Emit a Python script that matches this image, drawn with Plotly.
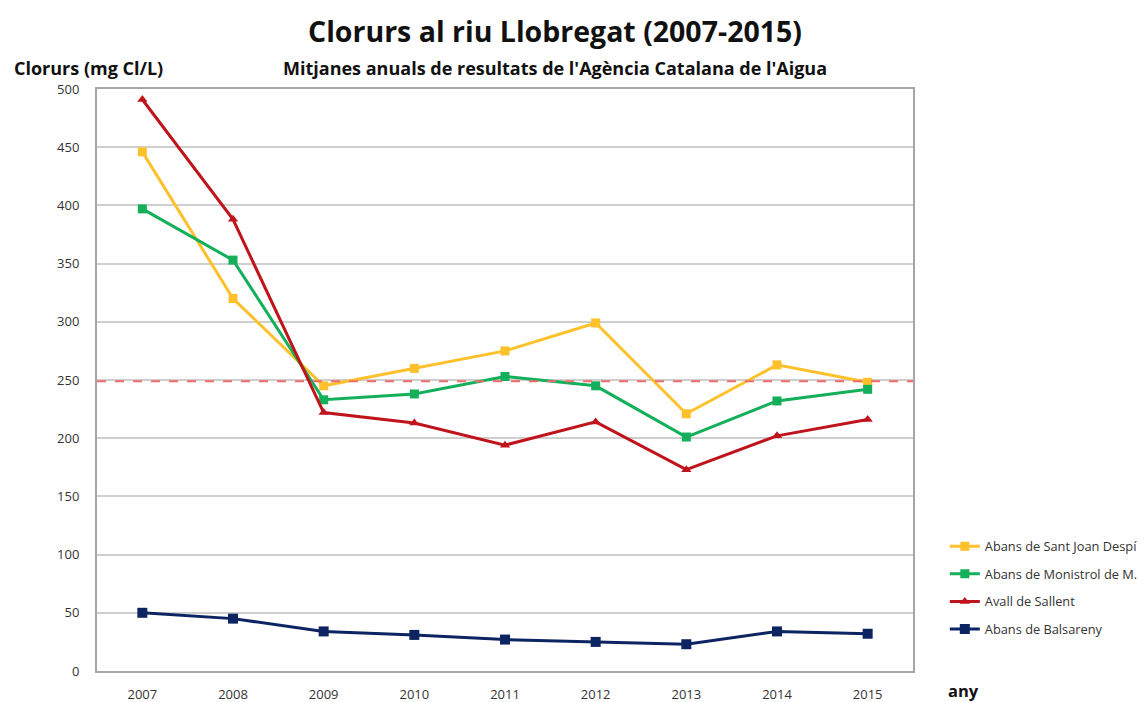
import plotly.graph_objects as go

years = ["2007", "2008", "2009", "2010", "2011", "2012", "2013", "2014", "2015"]
sant_joan = [446, 320, 245, 260, 275, 299, 221, 263, 248]
monistrol = [397, 353, 233, 238, 253, 245, 201, 232, 242]
sallent = [491, 388, 222, 213, 194, 214, 173, 202, 216]
balsareny = [50, 45, 34, 31, 27, 25, 23, 34, 32]
limit_value = 249
y_ticks = [0, 50, 100, 150, 200, 250, 300, 350, 400, 450, 500]

FONT = "Open Sans"

series = [
    ("Abans de Sant Joan Despí", sant_joan, "#FFC12B", "square", 9),
    ("Abans de Monistrol de M.", monistrol, "#13AF5A", "square", 9),
    ("Avall de Sallent", sallent, "#C0141C", "triangle-up", 9),
    ("Abans de Balsareny", balsareny, "#0D2462", "square", 10),
]

fig = go.Figure()
for i, (name, vals, col, sym, sz) in enumerate(series):
    fig.add_trace(go.Scatter(
        x=years, y=vals, name=name, mode="lines+markers",
        line=dict(color=col, width=3),
        marker=dict(symbol=sym, size=sz, color=col),
        legendgroup=f"g{i}",
    ))

fig.add_hline(y=limit_value, line=dict(color="#F26B6B", width=2, dash="dash"))

fig.update_layout(
    width=1146, height=694,
    margin=dict(l=89, r=241, t=81, b=31, autoexpand=False),
    paper_bgcolor="white", plot_bgcolor="white",
    font=dict(family=FONT, color="#222222"),
    showlegend=True,
    legend=dict(
        x=1.039, y=0.24, xanchor="left", yanchor="top",
        font=dict(size=12.8, family=FONT, color="#333333"),
        tracegroupgap=8, itemwidth=30,
        bgcolor="rgba(0,0,0,0)",
    ),
    xaxis=dict(
        type="category", range=[-0.5, 8.5], automargin=False,
        showgrid=False, showline=True, linecolor="#A6A6A6", linewidth=2,
        mirror=True, ticks="", tickfont=dict(size=13, color="#333333"),
        ticklabelstandoff=10,
    ),
    yaxis=dict(
        range=[0, 500], tickvals=y_ticks, automargin=False,
        showgrid=True, gridcolor="#CFCFCF", gridwidth=1.5,
        showline=True, linecolor="#A6A6A6", linewidth=2, mirror=True,
        ticks="", tickfont=dict(size=13, color="#333333"),
        ticklabelstandoff=13, zeroline=False,
    ),
    annotations=[
        dict(text="<b>Clorurs al riu Llobregat (2007-2015)</b>", xref="paper", yref="paper",
             x=0.561, y=1.0, yshift=58, xanchor="center", yanchor="middle",
             showarrow=False, font=dict(size=28.5, family=FONT, color="#111111")),
        dict(text="<b>Mitjanes anuals de resultats de l'Agència Catalana de l'Aigua</b>",
             xref="paper", yref="paper", x=0.561, y=1.0, yshift=21,
             xanchor="center", yanchor="middle", showarrow=False,
             font=dict(size=18, family=FONT, color="#111111")),
        dict(text="<b>Clorurs (mg Cl/L)</b>", xref="paper", yref="paper",
             x=-0.104, y=1.0, yshift=21, xanchor="left", yanchor="middle",
             showarrow=False, font=dict(size=18, family=FONT, color="#111111")),
        dict(text="<b>any</b>", xref="paper", yref="paper",
             x=1.04, y=0.0, yshift=-19, xanchor="left", yanchor="middle",
             showarrow=False, font=dict(size=16.5, family=FONT, color="#111111")),
    ],
)

fig.write_html("out.html")
